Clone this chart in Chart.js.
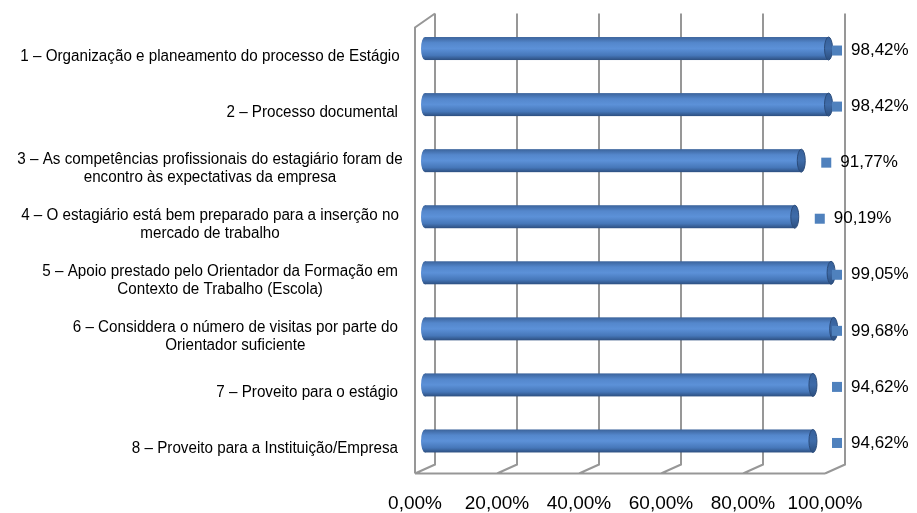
<!DOCTYPE html>
<html>
<head>
<meta charset="utf-8">
<script src="https://cdn.jsdelivr.net/npm/chart.js@4.4.1/dist/chart.umd.min.js"></script>
<style>
  html, body { margin: 0; padding: 0; background: #fff; }
  #wrap { width: 917px; height: 513px; }
</style>
</head>
<body>
<div id="wrap"><canvas id="chart"></canvas></div>
<script>
var categories = [
    ['1 – Organização e planeamento do processo de Estágio'],
    ['2 – Processo documental'],
    ['3 – As competências profissionais do estagiário foram de', 'encontro às expectativas da empresa'],
    ['4 – O estagiário está bem preparado para a inserção no', 'mercado de trabalho'],
    ['5 – Apoio prestado pelo Orientador da Formação em', 'Contexto de Trabalho (Escola)'],
    ['6 – Considdera o número de visitas por parte do', 'Orientador suficiente'],
    ['7 – Proveito para o estágio'],
    ['8 – Proveito para a Instituição/Empresa']
];
var values = [98.42, 98.42, 91.77, 90.19, 99.05, 99.68, 94.62, 94.62];
var xTicks = [0, 20, 40, 60, 80, 100];

function pct(v) {
    return v.toFixed(2).replace('.', ',') + '%';
}

// depth of the fake 3D box
var DX = 10, DYTOP = 7, DYBOT = 4.5;

var boxPlugin = {
    id: 'box3d',
    beforeDatasetsDraw: function(chart) {
        var ctx = chart.ctx, area = chart.chartArea, xs = chart.scales.x;
        var topB = area.top - DYTOP, topF = area.top + DYTOP;
        var botB = area.bottom - DYBOT, botF = area.bottom + DYBOT;
        ctx.save();
        ctx.strokeStyle = '#979797';
        ctx.lineWidth = 2;
        ctx.beginPath();
        xTicks.forEach(function(t) {
            var px = xs.getPixelForValue(t);
            // back wall gridline + floor diagonal
            ctx.moveTo(px + DX, topB);
            ctx.lineTo(px + DX, botB);
            ctx.lineTo(px - DX, botF);
        });
        // floor front edge
        ctx.moveTo(xs.getPixelForValue(0) - DX, botF);
        ctx.lineTo(xs.getPixelForValue(100) - DX, botF);
        // left side wall
        ctx.moveTo(xs.getPixelForValue(0) + DX, topB);
        ctx.lineTo(xs.getPixelForValue(0) - DX, topF);
        ctx.lineTo(xs.getPixelForValue(0) - DX, botF);
        ctx.stroke();
        ctx.restore();
    },
    beforeDatasetDraw: function(chart, args) {
        var ctx = chart.ctx;
        var meta = args.meta;
        meta.data.forEach(function(el) {
            var h = el.height, r = 4;
            var top = el.y - h / 2;
            var g = ctx.createLinearGradient(0, top, 0, top + h);
            g.addColorStop(0, '#3b639b');
            g.addColorStop(0.25, '#5487cc');
            g.addColorStop(0.5, '#5c91d8');
            g.addColorStop(0.8, '#4677b9');
            g.addColorStop(1, '#2d4f80');
            ctx.save();
            ctx.fillStyle = g;
            // left rounded end
            ctx.beginPath();
            ctx.ellipse(el.base, el.y, r, h / 2, 0, 0, Math.PI * 2);
            ctx.fill();
            // body
            ctx.fillRect(el.base, top, el.x - el.base, h);
            // right end cap
            var g2 = ctx.createLinearGradient(0, top, 0, top + h);
            g2.addColorStop(0, '#36609a');
            g2.addColorStop(0.5, '#3f6ca9');
            g2.addColorStop(1, '#2c4f80');
            ctx.fillStyle = g2;
            ctx.strokeStyle = '#2b4c7b';
            ctx.lineWidth = 1;
            ctx.beginPath();
            ctx.ellipse(el.x, el.y, r, h / 2, 0, 0, Math.PI * 2);
            ctx.fill();
            ctx.stroke();
            ctx.restore();
        });
        return false;
    },
    afterDatasetsDraw: function(chart) {
        var ctx = chart.ctx, ys = chart.scales.y;
        var meta = chart.getDatasetMeta(0);
        ctx.save();
        // value labels with legend key
        ctx.font = '17px "Liberation Sans", Arial, sans-serif';
        ctx.textBaseline = 'middle';
        ctx.textAlign = 'left';
        meta.data.forEach(function(el, i) {
            var mx = Math.min(el.x + 20, 832);
            var my = el.y + 2;
            ctx.fillStyle = '#4f81bd';
            ctx.fillRect(mx, my - 5, 10, 10);
            ctx.fillStyle = '#000';
            ctx.fillText(pct(values[i]), mx + 19, my);
        });
        // category labels: lines centred, block kept near the axis
        ctx.font = '16px "Liberation Sans", Arial, sans-serif';
        ctx.textAlign = 'center';
        var right = 398, lh = 18, sx = 0.95;
        categories.forEach(function(lines, i) {
            var cy = ys.getPixelForValue(i) + 8;
            var w = 0;
            lines.forEach(function(l) { w = Math.max(w, ctx.measureText(l).width * sx); });
            var cx = Math.max(right - w / 2, 210);
            lines.forEach(function(l, j) {
                ctx.save();
                ctx.translate(cx, cy + (j - (lines.length - 1) / 2) * lh);
                ctx.scale(sx, 1);
                ctx.fillText(l, 0, 0);
                ctx.restore();
            });
        });
        ctx.restore();
    }
};

new Chart(document.getElementById('chart'), {
    type: 'bar',
    data: {
        labels: categories,
        datasets: [{
            data: values,
            backgroundColor: '#4f81bd',
            barThickness: 23
        }]
    },
    options: {
        indexAxis: 'y',
        responsive: true,
        maintainAspectRatio: false,
        animation: false,
        layout: {
            padding: { top: 20.5, left: 425, right: 82, bottom: 0 }
        },
        plugins: {
            legend: { display: false },
            tooltip: { enabled: false }
        },
        scales: {
            x: {
                min: 0,
                max: 100,
                afterBuildTicks: function(scale) {
                    scale.ticks = xTicks.map(function(v) { return { value: v }; });
                },
                afterFit: function(scale) {
                    scale.height = 44;
                },
                grid: { display: false, drawTicks: false },
                border: { display: false },
                ticks: {
                    callback: function(v) { return pct(v); },
                    labelOffset: -10,
                    padding: 23.5,
                    maxRotation: 0,
                    autoSkip: false,
                    color: '#000',
                    font: { family: '"Liberation Sans", Arial, sans-serif', size: 19 }
                }
            },
            y: {
                display: false
            }
        }
    },
    plugins: [boxPlugin]
});
</script>
</body>
</html>
